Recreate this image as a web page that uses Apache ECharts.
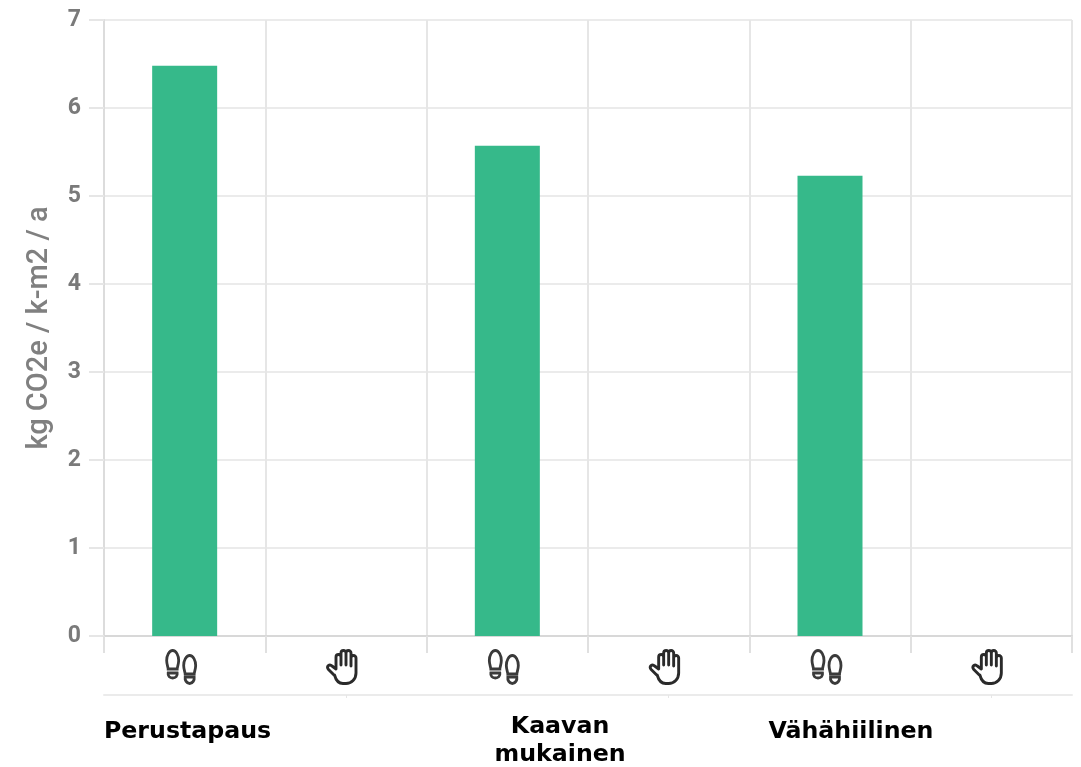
<!DOCTYPE html>
<html>
<head>
<meta charset="utf-8">
<title>Hiilijalanjälki</title>
<script src="https://cdn.jsdelivr.net/npm/echarts@6/dist/echarts.min.js"></script>
<style>
  html, body { margin: 0; padding: 0; background: #fff; }
  #chart { width: 1081px; height: 767px; }
</style>
</head>
<body>
<div id="chart"></div>
<script>
const categories = ['jalanjalki', 'kadenjalki', 'jalanjalki', 'kadenjalki', 'jalanjalki', 'kadenjalki']
const emissions = [6.48, 0, 5.57, 0, 5.23, 0]
const groupNames = ['Perustapaus', 'Kaavan\nmukainen', 'Vähähiilinen']
const yAxisName = 'kg CO2e / k-m2 / a'

function svgUri(body) {
  const svg = '<svg xmlns="http://www.w3.org/2000/svg" width="42" height="36" viewBox="0 0 42 36">' + body + '</svg>'
  return 'data:image/svg+xml,' + encodeURIComponent(svg)
}

const footIcon = svgUri(
  '<g fill="none" stroke="#3a3a3a" stroke-width="2.8">' +
  '<path d="M9 1.500c3.500 0 6 5 6 10 0 4-1.500 7-1.500 8.500h-9C4.500 18.500 3 15.500 3 11.500c0-5 2.500-10 6-10z"/>' +
  '<path d="M4.500 24h9c.5 3-1.500 5-4.500 5s-5-2-4.500-5z"/>' +
  '<path d="M26 6.500c3.500 0 6 5 6 10 0 4-1.500 7-1.500 8.500h-9C21.500 23.500 20 20.500 20 16.500c0-5 2.500-10 6-10z"/>' +
  '<path d="M21.500 28h9c.5 3-1.500 6.500-4.500 6.500s-5-3.500-4.500-6.500z"/>' +
  '</g>'
)
const handIcon = svgUri(
  '<g fill="none" stroke="#2a2a2a" stroke-width="2.9" stroke-linecap="round" stroke-linejoin="round">' +
  '<path d="M9 26 3.500 20.500c-2.500-3 1-6 3.500-3.500L11 20V8a2.500 2.500 0 0 1 5 0v8V4a2.500 2.500 0 0 1 5 0v12V4a2.500 2.500 0 0 1 5 0v13V9a2.500 2.500 0 0 1 5 0v15c0 6-4.500 10.500-10 10.500h-3c-4 0-7-3-8.500-8.500z"/>' +
  '</g>'
)

const groupLabelAt = [0.518, 2.827, 4.63]

const chart = echarts.init(document.getElementById('chart'))

chart.setOption({
  animation: false,
  backgroundColor: '#fff',
  grid: { left: 104, right: 9, top: 20, bottom: 131 },
  xAxis: [
    {
      type: 'category',
      data: categories,
      axisLine: { lineStyle: { color: '#d8d8d8', width: 2 } },
      axisTick: { show: true, length: 17, lineStyle: { color: '#e0e0e0', width: 2 } },
      splitLine: { show: true, lineStyle: { color: '#e6e6e6', width: 2 } },
      axisLabel: {
        interval: 0,
        margin: 13,
        formatter: v => (v === 'jalanjalki' ? '{foot|}' : '{hand|}'),
        rich: {
          foot: { width: 42, height: 36, backgroundColor: { image: footIcon } },
          hand: { width: 42, height: 36, backgroundColor: { image: handIcon } },
        },
      },
    },
    {
      // toinen akseli ryhmien nimille
      type: 'value',
      position: 'bottom',
      offset: 59,
      min: 0,
      max: 6,
      axisLine: { show: true, onZero: false, lineStyle: { color: '#ebebeb', width: 2 } },
      axisTick: { show: true, length: 3, customValues: [1.5, 3.5, 5.5], lineStyle: { color: '#e6e6e6' } },
      splitLine: { show: false },
      axisLabel: {
        show: true,
        margin: 18,
        verticalAlign: 'top',
        customValues: groupLabelAt,
        formatter: (v) => {
          const name = groupNames[groupLabelAt.indexOf(v)]
          if (!name) return ''
          if (name.indexOf('\n') >= 0) return name.split('\n').map(s => '{two|' + s + '}').join('\n')
          return '{one|' + name + '}'
        },
        rich: {
          one: { fontFamily: 'DejaVu Sans', fontWeight: 'bold', fontSize: 23.7, color: '#000', lineHeight: 28, padding: [9, 0, 0, 0] },
          two: { fontFamily: 'DejaVu Sans', fontWeight: 'bold', fontSize: 23.7, color: '#000', lineHeight: 28 },
        },
      },
    },
  ],
  yAxis: {
    type: 'value',
    min: 0,
    max: 7,
    interval: 1,
    name: yAxisName,
    nameLocation: 'middle',
    nameGap: 50,
    nameTextStyle: { fontFamily: 'Roboto', fontWeight: 500, fontSize: 29, color: '#808080' },
    axisLine: { show: true, lineStyle: { color: '#dcdcdc', width: 2 } },
    axisTick: { show: true, length: 15, lineStyle: { color: '#e6e6e6', width: 2 } },
    splitLine: { lineStyle: { color: '#ebebeb', width: 2 } },
    axisLabel: { fontFamily: 'Roboto', fontWeight: 'bold', fontSize: 23, color: '#7a7a7a', margin: 23 },
  },
  series: [
    {
      type: 'bar',
      xAxisIndex: 0,
      data: emissions,
      barWidth: 65,
      itemStyle: { color: '#36b98a' },
    },
  ],
})
</script>
</body>
</html>
